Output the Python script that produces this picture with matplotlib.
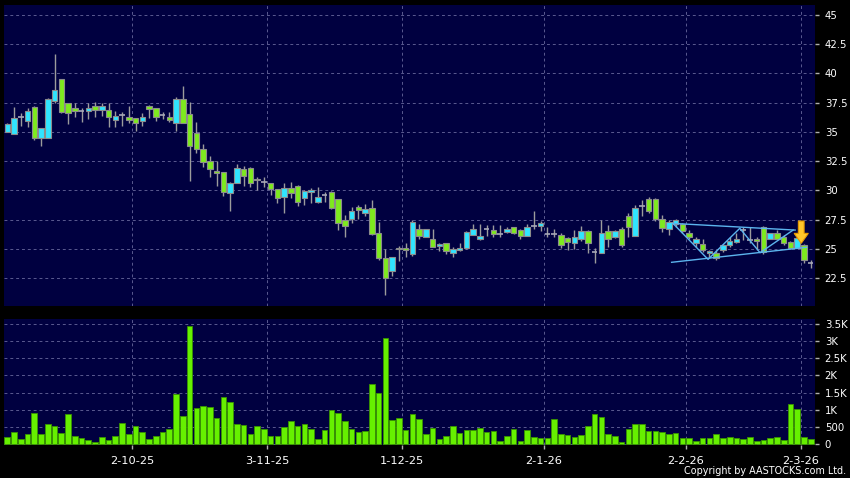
import numpy as np
import pandas as pd
import matplotlib
matplotlib.use("Agg")
import matplotlib.pyplot as plt
from matplotlib.patches import FancyArrow

# ---------------- data ----------------
open_ = [35.0, 34.8, 36.25, 35.95, 37.15, 34.45, 34.45, 37.6, 39.5, 37.45,
         37.0, 36.8, 36.75, 37.25, 36.85, 36.85, 36.05, 36.4, 36.25, 36.15,
         35.9, 37.25, 37.0, 36.4, 36.3, 35.8, 37.8, 36.5, 34.9, 33.5,
         32.5, 31.7, 31.55, 29.75, 30.65, 31.8, 31.95, 30.9, 30.75, 30.6,
         30.1, 29.45, 30.2, 30.4, 29.4, 29.9, 29.0, 29.65, 29.9, 29.25,
         27.5, 27.55, 28.6, 28.1, 28.5, 26.35, 24.2, 23.15, 25.0, 25.1,
         24.55, 26.75, 26.05, 25.85, 25.25, 25.5, 24.7, 24.9, 25.05, 26.2,
         25.85, 26.7, 26.6, 26.3, 26.45, 26.85, 26.65, 26.15, 27.0, 27.0,
         26.25, 26.25, 26.2, 25.95, 25.5, 25.85, 26.5, 24.75, 24.7, 26.55,
         26.0, 26.7, 27.85, 26.15, 28.65, 29.25, 29.25, 27.6, 26.75, 27.15,
         27.15, 26.35, 25.5, 25.4, 24.65, 24.7, 24.9, 25.35, 25.6, 26.6,
         25.75, 25.9, 26.9, 25.9, 26.35, 26.0, 25.6, 25.1, 25.35, 23.8]
high = [35.8, 37.1, 36.6, 37.0, 37.2, 35.3, 37.9, 41.65, 39.5, 37.5,
        37.5, 37.05, 37.5, 37.55, 37.5, 37.5, 36.8, 36.7, 37.2, 36.2,
        36.6, 37.3, 37.05, 36.7, 36.7, 37.95, 38.9, 37.55, 35.85, 34.0,
        32.9, 32.5, 31.6, 30.7, 32.3, 32.05, 32.0, 31.15, 31.15, 30.65,
        30.15, 30.6, 30.75, 30.45, 30.0, 30.2, 30.3, 29.9, 29.95, 29.3,
        27.9, 28.6, 28.75, 28.85, 29.2, 27.35, 25.0, 24.35, 25.3, 25.5,
        27.5, 27.15, 26.75, 26.75, 25.5, 25.5, 25.2, 25.5, 26.5, 27.15,
        27.15, 27.05, 27.05, 27.05, 26.85, 26.9, 26.75, 27.15, 28.25, 27.4,
        26.9, 26.7, 26.35, 26.0, 26.6, 26.95, 26.6, 25.05, 27.5, 27.05,
        26.6, 26.9, 28.05, 28.75, 29.15, 29.45, 29.35, 27.9, 27.5, 27.55,
        27.2, 26.6, 26.0, 25.9, 24.9, 24.9, 25.45, 26.0, 26.35, 26.85,
        26.85, 26.05, 26.95, 26.4, 26.6, 26.2, 25.7, 26.0, 25.4, 24.1]
low = [34.95, 34.8, 35.5, 35.45, 34.35, 33.8, 34.45, 37.5, 36.6, 35.7,
       36.25, 35.85, 36.1, 36.3, 36.35, 35.45, 35.45, 35.5, 35.8, 35.1,
       35.5, 36.15, 35.95, 36.1, 35.85, 35.1, 35.75, 30.8, 33.2, 32.0,
       31.15, 30.4, 29.55, 28.25, 30.6, 30.4, 30.3, 30.0, 30.3, 29.6,
       28.95, 28.05, 29.35, 28.7, 28.75, 28.95, 28.95, 29.05, 28.4, 26.6,
       26.05, 27.2, 27.6, 27.8, 26.2, 24.1, 21.05, 22.7, 24.0, 24.35,
       24.4, 25.9, 26.0, 25.15, 24.85, 24.6, 24.35, 24.85, 25.0, 26.2,
       25.8, 26.1, 26.0, 26.0, 26.4, 26.3, 25.85, 26.15, 26.75, 26.5,
       26.0, 26.0, 25.05, 24.9, 25.0, 25.7, 24.7, 23.8, 24.7, 25.2,
       25.95, 25.2, 26.05, 26.1, 27.8, 28.05, 27.4, 26.45, 26.2, 26.9,
       26.35, 25.85, 25.2, 24.75, 24.35, 24.1, 24.75, 25.2, 25.5, 25.75,
       25.55, 24.9, 24.6, 25.85, 25.8, 25.35, 25.0, 25.05, 23.85, 23.35]
close = [35.7, 36.2, 36.25, 36.8, 34.45, 35.3, 37.8, 38.55, 36.7, 36.6,
         36.75, 36.8, 37.0, 36.85, 37.25, 36.25, 36.35, 36.4, 36.0, 35.75,
         36.3, 36.95, 36.25, 36.4, 36.05, 37.8, 35.8, 33.8, 33.5, 32.45,
         31.8, 31.45, 29.85, 30.65, 31.95, 31.25, 30.6, 31.0, 30.75, 30.1,
         29.4, 30.25, 29.75, 29.0, 29.95, 30.0, 29.45, 29.65, 28.5, 27.2,
         27.0, 28.25, 28.35, 28.45, 26.25, 24.2, 22.5, 24.3, 25.1, 24.95,
         27.3, 26.15, 26.7, 25.2, 25.45, 24.85, 25.0, 25.1, 26.45, 26.7,
         26.1, 26.7, 26.25, 26.3, 26.75, 26.35, 26.15, 26.9, 27.0, 27.2,
         26.25, 26.25, 25.35, 25.6, 26.05, 26.5, 25.5, 24.75, 26.35, 25.85,
         26.5, 25.35, 26.85, 28.5, 28.65, 28.25, 27.6, 26.8, 27.35, 27.45,
         26.55, 26.0, 25.85, 24.9, 24.85, 24.2, 25.35, 25.65, 25.85, 26.6,
         25.75, 25.65, 24.75, 26.35, 25.9, 25.5, 25.05, 25.95, 24.05, 23.8]
volume = [195, 350, 146, 282, 915, 292, 594, 535, 321, 876,
          243, 185, 126, 49, 214, 126, 224, 623, 292, 535,
          360, 156, 233, 340, 428, 1460, 817, 3454, 1051, 1119,
          1080, 759, 1372, 1216, 584, 555, 292, 525, 438, 233,
          243, 487, 681, 535, 574, 438, 136, 409, 1002, 915,
          671, 438, 340, 389, 1761, 1498, 3104, 710, 749, 418,
          876, 730, 292, 467, 136, 243, 525, 311, 399, 399,
          457, 340, 389, 87, 233, 428, 87, 399, 204, 185,
          165, 719, 301, 262, 204, 262, 535, 875, 797, 282,
          224, 68, 428, 573, 573, 379, 379, 340, 292, 311,
          185, 165, 87, 175, 175, 301, 165, 214, 185, 146,
          194, 87, 117, 175, 214, 107, 1166, 1030, 214, 136]

first_day = "2025-09-04"
last_day = "2026-03-03"
holidays = ["2025-10-01", "2025-10-07", "2025-10-29", "2025-12-25", "2025-12-26",
            "2026-01-01", "2026-02-17", "2026-02-18", "2026-02-19"]
tick_dates = ["2025-10-02", "2025-11-03", "2025-12-01", "2026-01-02",
              "2026-02-02", "2026-03-02"]

price_ticks = [22.5, 25, 27.5, 30, 32.5, 35, 37.5, 40, 42.5, 45]
vol_ticks = [0, 500, 1000, 1500, 2000, 2500, 3000, 3500]
vol_labels = ["0", "500", "1K", "1.5K", "2K", "2.5K", "3K", "3.5K"]

# pattern lines drawn on chart (candle index, price)
upper_line_x, upper_line_y = [98.6, 116.7], [27.19, 26.62]
lower_line_x, lower_line_y = [98.4, 118.4], [23.87, 25.15]
zigzag_x = [98.6, 103.8, 108.5, 111.5, 116.4]
zigzag_y = [27.19, 24.12, 26.77, 24.69, 26.62]
arrow_x, arrow_top, arrow_tip = 117.6, 27.39, 25.49

# ---------------- build ----------------
dates = pd.bdate_range(first_day, last_day)
dates = dates[~dates.isin(pd.to_datetime(holidays))]
n = len(dates)
x = np.arange(n)
o = np.array(open_); h = np.array(high); l = np.array(low); c = np.array(close)
v = np.array(volume)

tick_idx = [int(np.where(dates == pd.Timestamp(d))[0][0]) for d in tick_dates]
tick_pos = [i - 0.5 for i in tick_idx]
tick_lab = [f"{pd.Timestamp(d).day}-{pd.Timestamp(d).month}-{pd.Timestamp(d).year % 100}"
            for d in tick_dates]

BG = "#000000"
PANEL = "#000040"
UP = "#30e4ff"
DOWN = "#7eea1e"
EDGE = "#8c8c8c"
WICK = "#9c9c9c"
GRID = "#5a5a90"
TXT = "white"

W, H = 850, 478
fig = plt.figure(figsize=(W / 100, H / 100), dpi=100, facecolor=BG)
ax = fig.add_axes([4 / W, 1 - 306 / H, 811 / W, 301 / H], facecolor=PANEL)
axv = fig.add_axes([4 / W, 1 - 445 / H, 811 / W, 126 / H], facecolor=PANEL, sharex=ax)

# wicks
ax.vlines(x, l, h, color=WICK, linewidth=1.0, zorder=2)
# bodies
bw = 0.8
doji = np.abs(c - o) < 0.02
up = (c > o) & ~doji
dn = (c < o) & ~doji
ax.bar(x[up], (c - o)[up], bottom=o[up], width=bw, color=UP, edgecolor=EDGE,
       linewidth=0.8, zorder=3)
ax.bar(x[dn], (o - c)[dn], bottom=c[dn], width=bw, color=DOWN, edgecolor=EDGE,
       linewidth=0.8, zorder=3)
ax.hlines(o[doji], x[doji] - bw / 2, x[doji] + bw / 2, color="#a8a8b8",
          linewidth=1.2, zorder=3)

# pattern lines
lc = "#5cb4ee"
ax.plot(upper_line_x, upper_line_y, color=lc, linewidth=1.0, zorder=4)
ax.plot(lower_line_x, lower_line_y, color=lc, linewidth=1.0, zorder=4)
ax.plot(zigzag_x, zigzag_y, color=lc, linewidth=1.0, zorder=4)
ax.add_patch(FancyArrow(arrow_x, arrow_top, 0, arrow_tip - arrow_top, width=0.85,
                        head_width=2.1, head_length=0.85, length_includes_head=True,
                        facecolor="#ffc62a", edgecolor="#e89a00", linewidth=0.8,
                        zorder=5))

ax.set_xlim(-0.49, 119.64)
ax.set_ylim(20.14, 45.83)

# volume
axv.bar(x, v, width=0.84, color="#66f000", edgecolor="#3a9400", linewidth=0.6, zorder=3)
axv.set_ylim(-30, 3650)

for a in (ax, axv):
    for s in a.spines.values():
        s.set_visible(False)
    a.yaxis.tick_right()
    a.tick_params(axis="y", colors="#b0b0b0", labelcolor=TXT, length=3, width=1,
                  pad=4, labelsize=7.3)
    a.grid(True, color=GRID, linestyle=(0, (3, 3)), linewidth=0.7, zorder=0)
    a.set_axisbelow(True)
    a.set_xticks(tick_pos)

ax.set_yticks(price_ticks)
ax.set_yticklabels([f"{t:g}" for t in price_ticks])
ax.tick_params(axis="x", length=0, labelbottom=False)

axv.set_yticks(vol_ticks)
axv.set_yticklabels(vol_labels)
axv.set_xticklabels(tick_lab)
axv.tick_params(axis="x", colors="#b0b0b0", labelcolor=TXT, length=3, width=1,
                pad=5, labelsize=8.2)

fig.text(846 / W, 1 - 471 / H, "Copyright by AASTOCKS.com Ltd.", ha="right",
         va="center", color=TXT, fontsize=6.9)

fig.savefig("out.png", dpi=100, facecolor=BG)
